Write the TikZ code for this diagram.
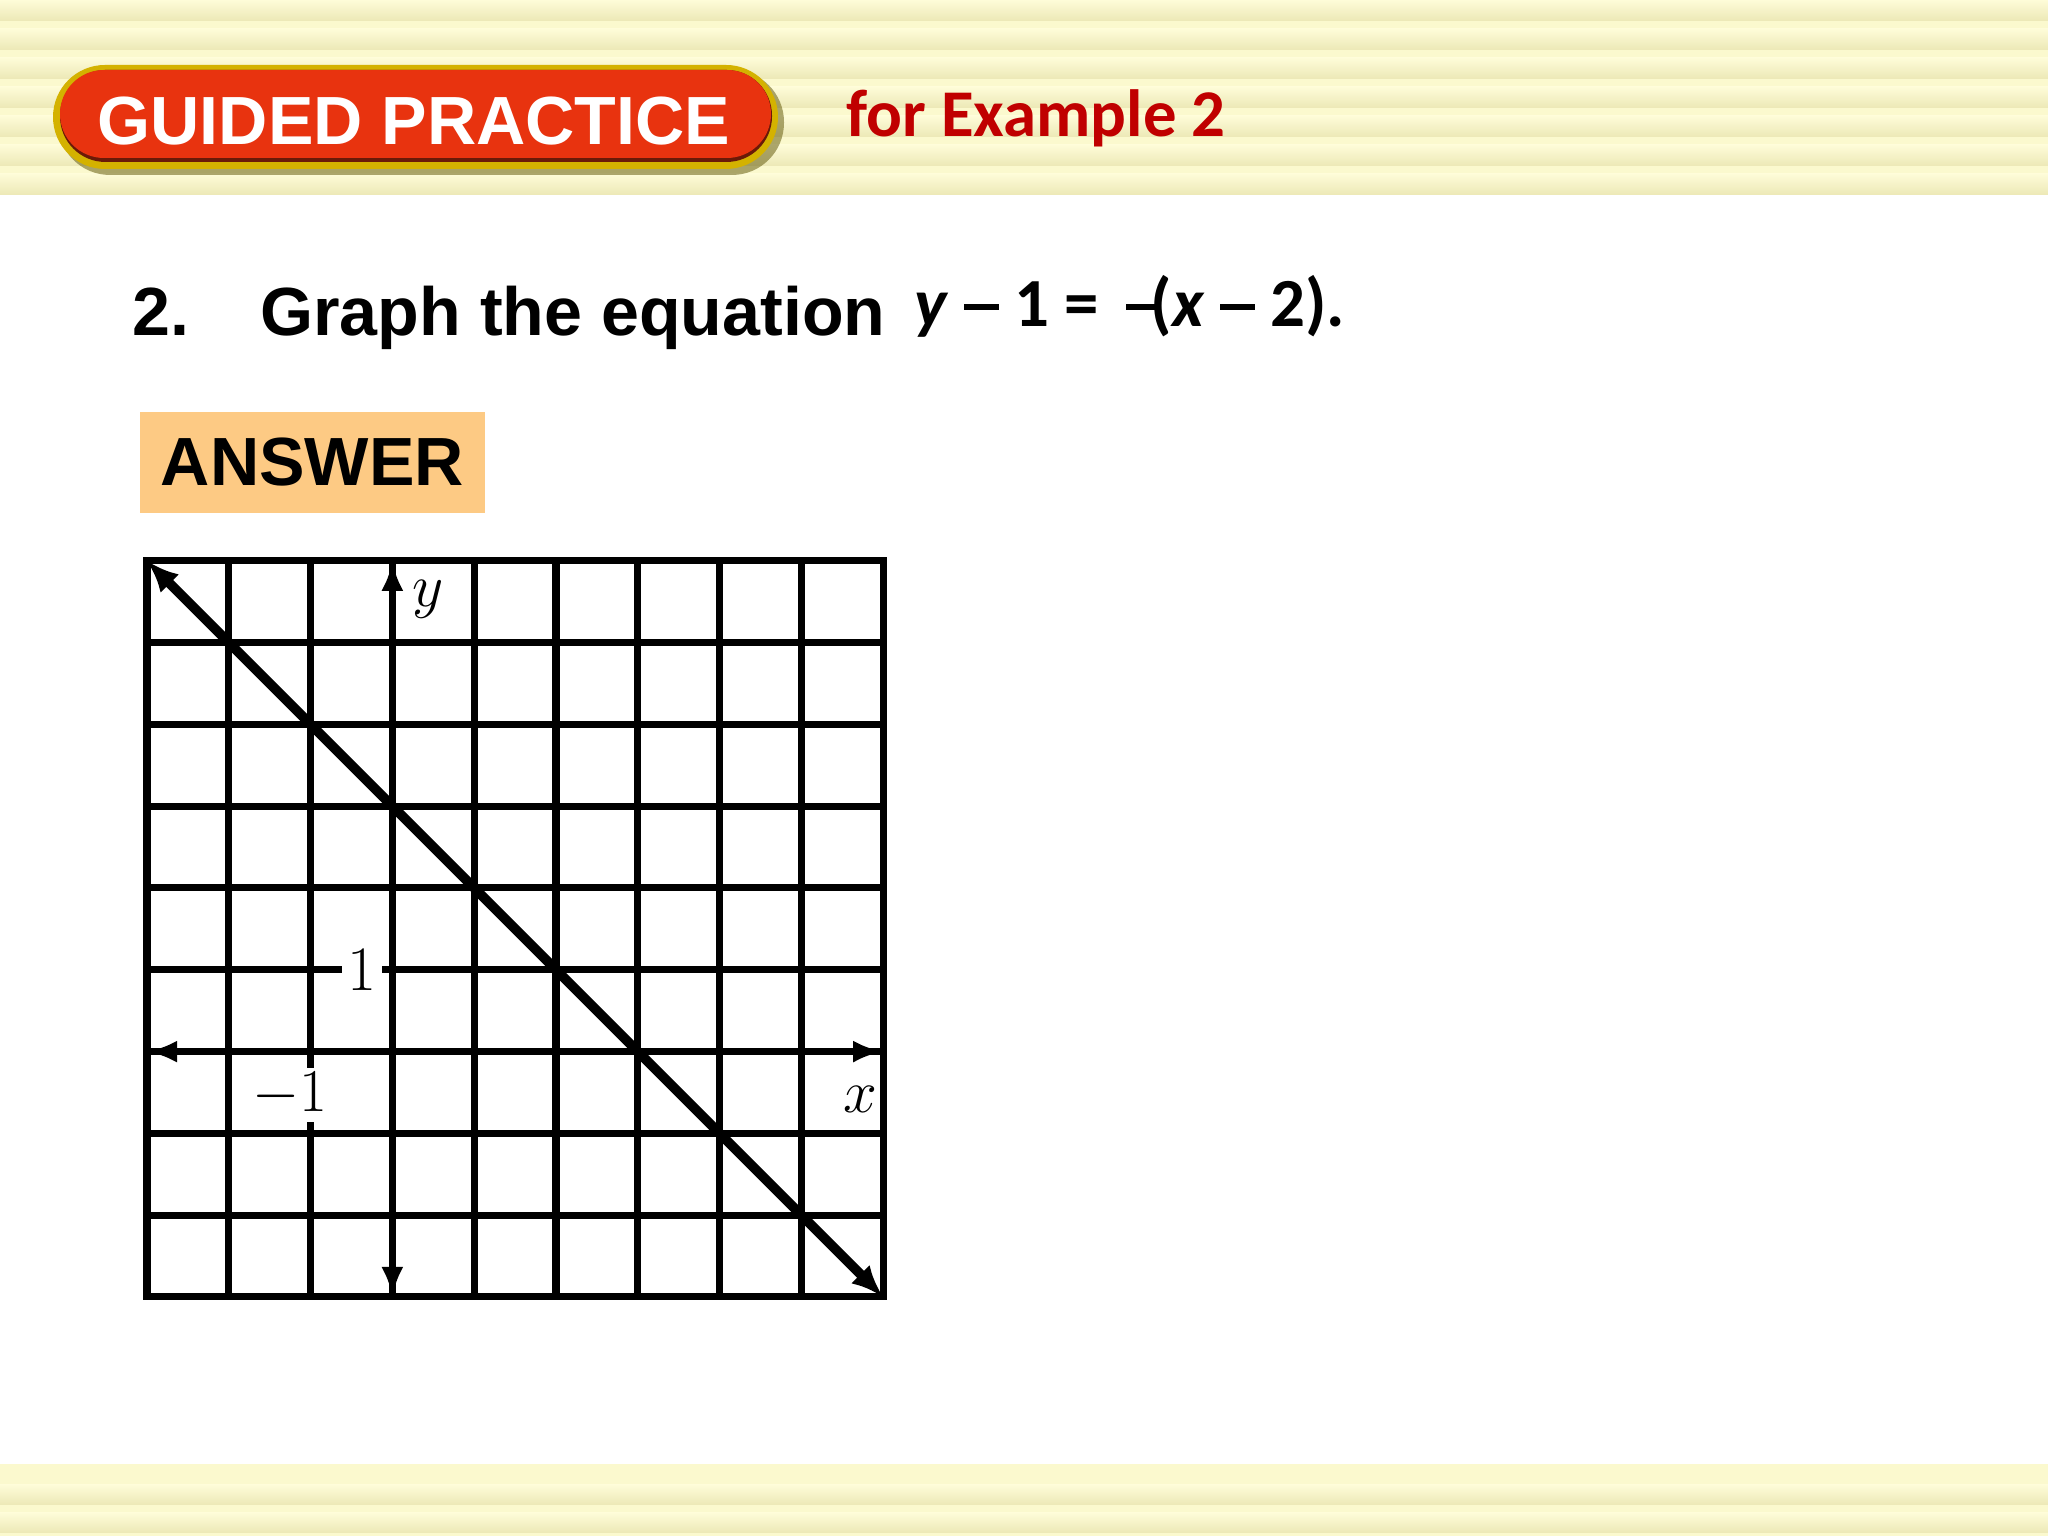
\documentclass[tikz,border=0pt]{standalone}
\usepackage{fontspec}
\newfontfamily\arialfont{Liberation Sans}
\newfontfamily\calibrifont{Carlito}
\definecolor{gpBand}{HTML}{FBF9CE}
\definecolor{gpBandLight}{HTML}{FEFCD8}
\definecolor{gpBandDark}{HTML}{ECE8B6}
\definecolor{gpRed}{HTML}{E8330F}
\definecolor{gpRedDark}{HTML}{6A1A08}
\definecolor{gpGold}{HTML}{D4B200}
\definecolor{gpShadow}{HTML}{5A5000}
\definecolor{gpTitle}{HTML}{C00000}
\definecolor{gpAnswer}{HTML}{FDCA84}
\newcommand{\eqminus}{\rule[0.24em]{0.5em}{0.09em}}
\usepackage{tikz}
\usetikzlibrary{arrows.meta}

\begin{document}
\begin{tikzpicture}[
  stripe/.style={top color=gpBandLight, bottom color=gpBandDark},
  pilltext/.style={text=white, font=\arialfont\bfseries\fontsize{19.4}{23}\selectfont},
  headtext/.style={text=gpTitle, font=\calibrifont\bfseries\fontsize{19}{23}\selectfont, anchor=base west},
  qtext/.style={font=\arialfont\bfseries\fontsize{19.4}{23}\selectfont, anchor=base west},
  eqtext/.style={font=\calibrifont\bfseries\fontsize{19.6}{23}\selectfont, anchor=base west},
  answerbox/.style={fill=gpAnswer, minimum width=3.45cm, minimum height=1.01cm,
    font=\arialfont\bfseries\fontsize{19.4}{23}\selectfont},
  gridline/.style={line width=2pt, line cap=rect},
  axis/.style={line width=2.2pt, {Latex[length=3mm,width=2.2mm]}-{Latex[length=3mm,width=2.2mm]}},
  graphline/.style={line width=2.8pt, {Latex[length=3.2mm,width=2.6mm]}-{Latex[length=3.2mm,width=2.6mm]}},
  ticklabel/.style={fill=white, inner sep=1.5pt, font=\fontsize{18}{20}\selectfont},
  axislabel/.style={inner sep=0pt, font=\fontsize{18}{20}\selectfont}
]
  \useasboundingbox (0,0) rectangle (20.48,15.36);
  \fill[white] (0,0) rectangle (20.48,15.36);

  % striped bands
  \fill[gpBand] (0,13.41) rectangle (20.48,15.36);
  \foreach \y in {13.41,13.70,13.99,14.28,14.57,14.86,15.15}
    \shade[stripe] (0,\y) rectangle (20.48,\y+0.21);
  \fill[gpBand] (0,0) rectangle (20.48,0.72);
  \foreach \y in {0,0.28}
    \shade[stripe] (0,\y+0.03) rectangle (20.48,\y+0.23);

  % title pill
  \fill[gpShadow, opacity=0.5, rounded corners=0.52cm] (0.58,13.61) rectangle (7.84,14.66);
  \fill[gpGold, rounded corners=0.52cm] (0.53,13.67) rectangle (7.78,14.71);
  \fill[gpRedDark, rounded corners=0.455cm] (0.60,13.74) rectangle (7.72,14.66);
  \fill[gpRed, rounded corners=0.44cm] (0.60,13.78) rectangle (7.71,14.66);
  \node[pilltext] (guided) at (4.14,14.15) {GUIDED PRACTICE};
  \node[headtext] (example) at (8.34,13.99) {for Example 2};

  % question
  \node[qtext] (num) at (1.20,12.00) {2.};
  \node[qtext] (question) at (2.48,12.00) {Graph the equation};
  \node[eqtext] (equation) at (9.02,12.09)
    {\textit{y} \eqminus{} 1 = \,\eqminus\kern-0.14em(\textit{x} \eqminus{} 2).};

  \node[answerbox] (answer) at (3.125,10.735) {ANSWER};

  % graph
  \begin{scope}[shift={(1.47,2.39)}, x=0.818cm, y=0.818cm]
    \foreach \i in {0,...,9} {
      \draw[gridline] (\i,0) -- (\i,9);
      \draw[gridline] (0,\i) -- (9,\i);
    }
    \draw[axis] (3,0) -- (3,9);
    \draw[axis] (0,3) -- (9,3);
    \coordinate (start) at (0,9);
    \coordinate (end) at (9,0);
    \draw[graphline] (start) -- (end);
    \node[ticklabel] (one) at (2.63,4) {1};
    \node[ticklabel] (minusone) at (1.75,2.47) {$-1$};
    \node[axislabel] (ylab) at (3.44,8.53) {$y$};
    \node[axislabel] (xlab) at (8.72,2.41) {$x$};
  \end{scope}
\end{tikzpicture}
\end{document}
